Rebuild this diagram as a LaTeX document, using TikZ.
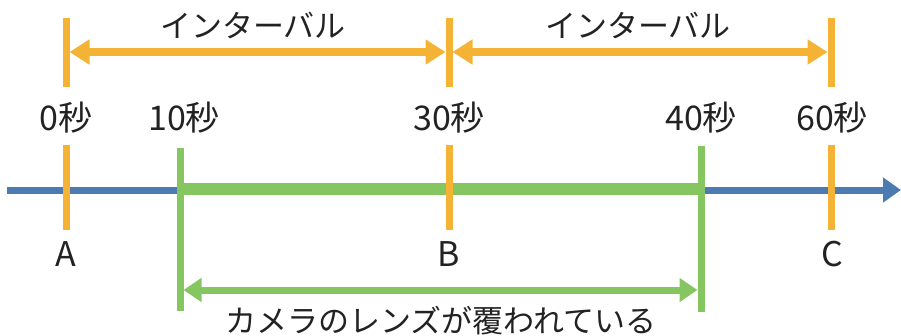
\documentclass[tikz,border=0pt]{standalone}
\usepackage{fontspec}
\setmainfont{Noto Sans CJK JP}
\usetikzlibrary{arrows.meta}
\definecolor{orng}{HTML}{F5B335}
\definecolor{blu}{HTML}{4C7BB2}
\definecolor{grn}{HTML}{86C660}
\definecolor{txt}{HTML}{222222}
\tikzset{
  lbl/.style={text=txt,font=\fontsize{31}{36}\selectfont,inner sep=0pt},
  biglbl/.style={text=txt,font=\fontsize{34}{38}\selectfont,inner sep=0pt},
  tick/.style={draw=orng,line width=7pt},
  gtick/.style={draw=grn,line width=7pt},
  orarrow/.style={draw=orng,line width=8pt,{Triangle[length=20pt,width=24pt]}-{Triangle[length=20pt,width=24pt]}},
  grarrow/.style={draw=grn,line width=7pt,{Triangle[length=18pt,width=23pt]}-{Triangle[length=18pt,width=23pt]}},
  axis/.style={draw=blu,line width=7pt,-{Triangle[length=18pt,width=24pt]}},
  bar/.style={draw=grn,line width=12pt}
}
\begin{document}
\begin{tikzpicture}[x=1pt,y=-1pt]
\useasboundingbox (0,0) rectangle (901,335);
% coordinates
\coordinate (axL) at (7,190);
\coordinate (axR) at (901,190);
\coordinate (gL) at (180,189);
\coordinate (gR) at (701,189);
\coordinate (gLt) at (180,148);
\coordinate (gLb) at (180,311);
\coordinate (gRt) at (701,146);
\coordinate (gRb) at (701,312);
\coordinate (gaL) at (183.5,290);
\coordinate (gaR) at (697.5,290);
\foreach \n/\x in {a/66,b/449,c/831}{
  \coordinate (\n t1) at (\x,18);
  \coordinate (\n t2) at (\x,87);
  \coordinate (\n b1) at (\x,145);
  \coordinate (\n b2) at (\x,230);
}
\coordinate (oa1) at (69.5,52);
\coordinate (oa2) at (445.5,52);
\coordinate (ob1) at (452.5,52);
\coordinate (ob2) at (827.5,52);
% axis and bars
\draw[axis] (axL) -- (axR);
\draw[bar] (gL) -- (gR);
\draw[gtick] (gLt) -- (gLb);
\draw[gtick] (gRt) -- (gRb);
\foreach \n in {a,b,c}{
  \draw[tick] (\n t1) -- (\n t2);
  \draw[tick] (\n b1) -- (\n b2);
}
\draw[orarrow] (oa1) -- (oa2);
\draw[orarrow] (ob1) -- (ob2);
\draw[grarrow] (gaL) -- (gaR);
% labels
\node[lbl] (int1) at (253,25) {インターバル};
\node[lbl] (int2) at (638,25) {インターバル};
\node[biglbl] (s0) at (66,118) {0秒};
\node[biglbl] (s10) at (184,118) {10秒};
\node[biglbl] (s30) at (449,118) {30秒};
\node[biglbl] (s40) at (701,118) {40秒};
\node[biglbl] (s60) at (832,118) {60秒};
\node[biglbl] (A) at (66,254) {A};
\node[biglbl] (B) at (449,254) {B};
\node[biglbl] (C) at (832,254) {C};
\node[lbl] (cover) at (441,321) {カメラのレンズが覆われている};
\end{tikzpicture}
\end{document}
